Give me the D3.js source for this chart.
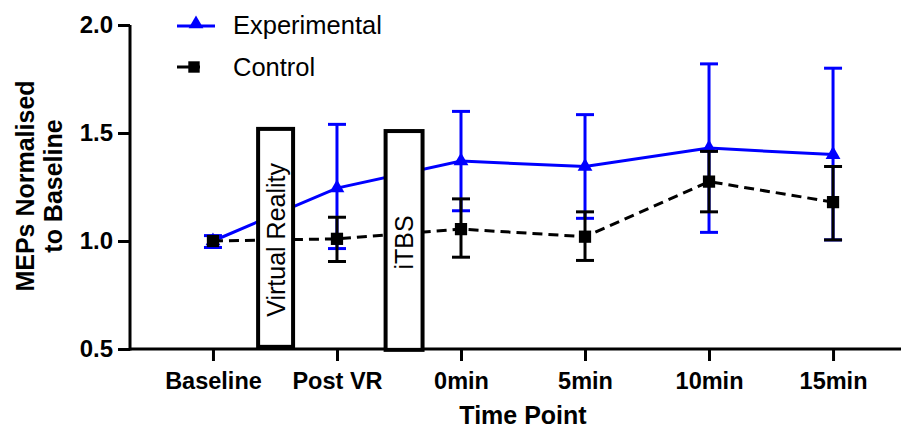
<!DOCTYPE html>
<html>
<head>
<meta charset="utf-8">
<script src="https://cdn.jsdelivr.net/npm/d3@7"></script>
<style>
  body { margin: 0; background: #fff; }
  text { font-family: "Liberation Sans", Arial, Helvetica, sans-serif; }
</style>
</head>
<body>
<script>
// data
var timePoints = ["Baseline", "Post VR", "0min", "5min", "10min", "15min"];
var expMean  = [1.00, 1.245, 1.37, 1.345, 1.43, 1.40];
var expLow   = [0.97, 0.965, 1.14, 1.105, 1.04, 1.005];
var expHigh  = [1.025, 1.54, 1.60, 1.585, 1.82, 1.80];
var ctrlMean = [1.00, 1.01, 1.055, 1.02, 1.275, 1.18];
var ctrlLow  = [1.00, 0.905, 0.925, 0.91, 1.135, 1.005];
var ctrlHigh = [1.00, 1.11, 1.195, 1.135, 1.415, 1.345];
var yTicks = [0.5, 1.0, 1.5, 2.0];
// interventions between time points (index position, label)
var boxes = [
  {pos: 0.505, label: "Virtual Reality", top: 1.519, bottom: 0.51, w: 0.282},
  {pos: 1.541, label: "iTBS", top: 1.509, bottom: 0.496, w: 0.298}
];

var W = 901, H = 431;
var svg = d3.select("body").append("svg")
  .attr("width", W).attr("height", H);

var x = d3.scaleLinear().domain([-0.669, 5.548]).range([130, 901]);
var y = d3.scaleLinear().domain([0.5, 2.0]).range([349, 25]);

var blue = "#0000ff", black = "#000";

// axes
var yAxis = svg.append("g").attr("transform", "translate(130,0)")
  .call(d3.axisLeft(y).tickValues(yTicks).tickFormat(d3.format(".1f")).tickSize(12).tickPadding(5));
var xAxis = svg.append("g").attr("transform", "translate(0,349)")
  .call(d3.axisBottom(x).tickValues(d3.range(timePoints.length)).tickFormat(function(i){ return timePoints[i]; }).tickSize(12).tickPadding(11));
[yAxis, xAxis].forEach(function(a){
  a.select(".domain").attr("stroke", black).attr("stroke-width", 3);
  a.selectAll(".tick line").attr("stroke", black).attr("stroke-width", 3);
  a.selectAll(".tick text").attr("fill", black).attr("font-weight", "bold");
});
yAxis.select(".domain").attr("d", "M0," + y(2.0) + "V" + (y(0.5) + 1.5));
xAxis.select(".domain").attr("d", "M130,0H901");
yAxis.selectAll(".tick text").attr("font-size", 24);
xAxis.selectAll(".tick text").attr("font-size", 23.5);

// axis titles
svg.append("text").attr("x", 523).attr("y", 424).attr("text-anchor", "middle")
  .attr("font-size", 25).attr("font-weight", "bold").text("Time Point");
svg.append("text").attr("transform", "translate(34,186) rotate(-90)").attr("text-anchor", "middle")
  .attr("font-size", 25).attr("font-weight", "bold").text("MEPs Normalised");
svg.append("text").attr("transform", "translate(62,186) rotate(-90)").attr("text-anchor", "middle")
  .attr("font-size", 25).attr("font-weight", "bold").text("to Baseline");

function drawSeries(mean, color, dash) {
  var line = d3.line().x(function(d, i){ return x(i); }).y(function(d){ return y(d); });
  svg.append("path").datum(mean).attr("d", line)
    .attr("fill", "none").attr("stroke", color).attr("stroke-width", 3)
    .attr("stroke-dasharray", dash);
}

function drawBars(mean, low, high, color, marker) {
  var g = svg.append("g");
  mean.forEach(function(m, i){
    if (high[i] - low[i] < 0.001) return;
    g.append("line").attr("x1", x(i)).attr("x2", x(i)).attr("y1", y(low[i])).attr("y2", y(high[i]))
      .attr("stroke", color).attr("stroke-width", 3);
    [low[i], high[i]].forEach(function(v){
      g.append("line").attr("x1", x(i) - 9).attr("x2", x(i) + 9).attr("y1", y(v)).attr("y2", y(v))
        .attr("stroke", color).attr("stroke-width", 3);
    });
  });
  g.selectAll("path.m").data(mean).enter().append("path")
    .attr("transform", function(d, i){ return "translate(" + x(i) + "," + y(d) + ")"; })
    .attr("d", d3.symbol().type(marker).size(marker === d3.symbolTriangle ? 95 : 150))
    .attr("fill", color);
}

drawSeries(expMean, blue, null);
drawSeries(ctrlMean, black, "10,6");

// intervention boxes cover the lines
boxes.forEach(function(b){
  var x0 = x(b.pos - b.w / 2), x1 = x(b.pos + b.w / 2);
  svg.append("rect").attr("x", x0).attr("y", y(b.top)).attr("width", x1 - x0)
    .attr("height", y(b.bottom) - y(b.top))
    .attr("fill", "#fff").attr("stroke", black).attr("stroke-width", 4);
  var cx = (x0 + x1) / 2, cy = (y(b.top) + y(b.bottom)) / 2;
  svg.append("text").attr("transform", "translate(" + (cx + 9) + "," + (cy + 2) + ") rotate(-90)")
    .attr("text-anchor", "middle").attr("font-size", 25).text(b.label);
});

drawBars(expMean, expLow, expHigh, blue, d3.symbolTriangle);
drawBars(ctrlMean, ctrlLow, ctrlHigh, black, d3.symbolSquare);

// legend
var lg = svg.append("g");
lg.append("line").attr("x1", 177).attr("x2", 215).attr("y1", 26).attr("y2", 26)
  .attr("stroke", blue).attr("stroke-width", 3);
lg.append("path").attr("transform", "translate(196,24)")
  .attr("d", d3.symbol().type(d3.symbolTriangle).size(95)).attr("fill", blue);
lg.append("text").attr("x", 233).attr("y", 34).attr("font-size", 25.5).text("Experimental");
lg.append("line").attr("x1", 177).attr("x2", 215).attr("y1", 67).attr("y2", 67)
  .attr("stroke", black).attr("stroke-width", 3).attr("stroke-dasharray", "13,6,4,20");
lg.append("path").attr("transform", "translate(194,67)")
  .attr("d", d3.symbol().type(d3.symbolSquare).size(130)).attr("fill", black);
lg.append("text").attr("x", 233).attr("y", 76).attr("font-size", 25.5).text("Control");
</script>
</body>
</html>
